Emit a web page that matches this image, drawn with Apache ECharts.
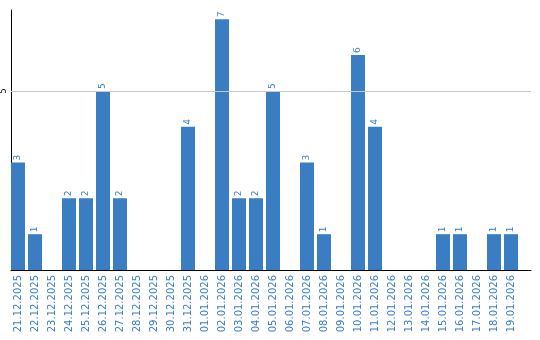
<!DOCTYPE html>
<html><head><meta charset="utf-8">
<script src="https://cdn.jsdelivr.net/npm/echarts@6/dist/echarts.min.js"></script>
<style>html,body{margin:0;padding:0;background:#fff}#c{width:540px;height:340px}</style>
</head><body><div id="c"></div>
<script>
var categories = ['21.12.2025','22.12.2025','23.12.2025','24.12.2025','25.12.2025','26.12.2025','27.12.2025','28.12.2025','29.12.2025','30.12.2025','31.12.2025','01.01.2026','02.01.2026','03.01.2026','04.01.2026','05.01.2026','06.01.2026','07.01.2026','08.01.2026','09.01.2026','10.01.2026','11.01.2026','12.01.2026','13.01.2026','14.01.2026','15.01.2026','16.01.2026','17.01.2026','18.01.2026','19.01.2026'];
var values = [3,1,0,2,2,5,2,0,0,0,4,0,7,2,2,5,0,3,1,0,6,4,0,0,0,1,1,0,1,1];
var yTicks = [5];
var yMax = 7.26;

var blue = '#3a7dc2';
var chart = echarts.init(document.getElementById('c'));
chart.setOption({
  animation: false,
  grid: [
    {left: 10, top: 10, width: 521, height: 260},
    {left: 9.5, top: 10, width: 510, height: 260}
  ],
  xAxis: [
    {gridIndex: 0, type: 'value', min: 0, max: 1,
     axisLine: {show: true, lineStyle: {color: '#000', width: 1}},
     axisTick: {show: false}, axisLabel: {show: false}, splitLine: {show: false}},
    {gridIndex: 1, type: 'category', data: categories,
     axisLine: {show: false}, axisTick: {show: false}, splitLine: {show: false},
     axisLabel: {interval: 0, rotate: 90, margin: 5, color: blue,
       fontFamily: 'DejaVu Sans', fontSize: 10}}
  ],
  yAxis: [
    {gridIndex: 0, type: 'value', min: 0, max: yMax, interval: 5,
     axisLine: {show: true, lineStyle: {color: '#000', width: 1}},
     axisTick: {show: false}, splitLine: {show: false},
     axisLabel: {rotate: 90, margin: 3, color: '#000', fontFamily: 'DejaVu Sans', fontSize: 8,
       formatter: function (v) { return yTicks.indexOf(v) >= 0 ? String(v) : ''; }}},
    {gridIndex: 1, type: 'value', min: 0, max: yMax, interval: 5, show: false}
  ],
  series: [
    {type: 'line', xAxisIndex: 0, yAxisIndex: 0, data: [], silent: true,
     markLine: {silent: true, symbol: 'none', label: {show: false},
       lineStyle: {color: '#c8c8c8', type: 'solid', width: 1},
       data: yTicks.map(function (t) { return {yAxis: t}; })}},
    {type: 'bar', xAxisIndex: 1, yAxisIndex: 1, data: values, barWidth: 14,
     itemStyle: {color: blue},
     label: {show: true, position: 'top', rotate: 90, align: 'left', verticalAlign: 'middle',
       distance: 2, color: blue, fontFamily: 'DejaVu Sans', fontSize: 9,
       formatter: function (p) { return p.value ? String(p.value) : ''; }}}
  ]
});
</script></body></html>
